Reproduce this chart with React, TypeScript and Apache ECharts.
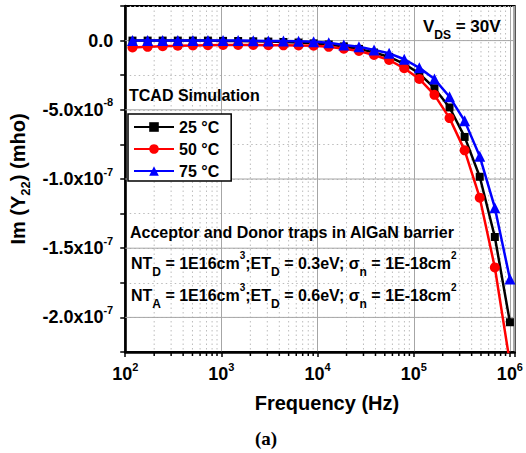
import React, { useEffect, useRef } from 'react';
import * as echarts from 'echarts';

// ---------- data ----------
const frequencies = [
  119, 171, 245, 352, 505, 724, 1040, 1493, 2143, 3076, 4416, 6339, 9099,
  13060, 18750, 26920, 38640, 55460, 79620, 114300, 164100, 235500, 338100,
  485300, 696600, 1000000,
];
const im25 = [
  0, 0, 0, 0, 0, 0, -0.02e-8, -0.03e-8, -0.05e-8, -0.07e-8, -0.1e-8, -0.14e-8,
  -0.2e-8, -0.28e-8, -0.42e-8, -0.6e-8, -0.86e-8, -1.18e-8, -1.68e-8, -2.38e-8,
  -3.44e-8, -4.83e-8, -6.96e-8, -9.84e-8, -14.19e-8, -20.35e-8,
];
const im50 = [
  -0.5e-8, -0.45e-8, -0.4e-8, -0.37e-8, -0.35e-8, -0.33e-8, -0.32e-8, -0.32e-8,
  -0.32e-8, -0.33e-8, -0.34e-8, -0.35e-8, -0.37e-8, -0.45e-8, -0.59e-8,
  -0.75e-8, -1.04e-8, -1.4e-8, -2.0e-8, -2.77e-8, -3.92e-8, -5.6e-8, -7.93e-8,
  -11.35e-8, -16.39e-8, -23.3e-8,
];
const im75 = [
  0, 0, 0, 0, 0, 0, 0, 0, -0.01e-8, -0.02e-8, -0.03e-8, -0.05e-8, -0.09e-8,
  -0.16e-8, -0.32e-8, -0.45e-8, -0.68e-8, -0.92e-8, -1.35e-8, -1.97e-8,
  -2.78e-8, -4.06e-8, -5.8e-8, -8.36e-8, -12.07e-8, -17.23e-8,
];
const seriesNames = ['25 °C', '50 °C', '75 °C'];

// ---------- ticks ----------
const xDecades = [1e2, 1e3, 1e4, 1e5, 1e6];
const xDecadeExponents = ['2', '3', '4', '5', '6'];
const xMinorMultipliers = [2, 3, 4, 5, 6, 7, 8, 9];
const yMajorTicks = [0, -5e-8, -1e-7, -1.5e-7, -2e-7];
const yTickBases = ['0.0', '-5.0x10', '-1.0x10', '-1.5x10', '-2.0x10'];
const yTickExponents = ['', '-8', '-7', '-7', '-7'];

const X_MIN = 100;
const X_MAX = 1.12e6;
const Y_MIN = -2.25e-7;
const Y_MAX = 2.5e-8;
const Y_STEP = 2.5e-8;

const FONT = '"Liberation Sans", Arial, sans-serif';
const MAJOR_GRID = '#a6a6a6';
const MINOR_GRID = '#bcbcbc';

export default function App() {
  const ref = useRef<HTMLDivElement>(null);

  useEffect(() => {
    if (!ref.current) return;
    const chart = echarts.init(ref.current, undefined, { renderer: 'svg' });

    const xMinor: number[][] = [];
    xDecades.forEach((d) => {
      xMinorMultipliers.forEach((m) => {
        const v = d * m;
        if (v < X_MAX) xMinor.push([v, Y_MIN]);
      });
    });

    const labelRich = {
      m: { fontSize: 18, fontWeight: 'bold', fontFamily: FONT, color: '#000' },
      s: {
        fontSize: 11,
        fontWeight: 'bold',
        fontFamily: FONT,
        color: '#000',
        padding: [0, 0, 15, 0],
      },
    };

    const gStyle = (size: number) => ({
      fontSize: size,
      fontWeight: 'bold',
      fontFamily: FONT,
      fill: '#000',
    });
    const noteRich = {
      m: gStyle(16),
      s: { ...gStyle(12), padding: [17, 0, 0, 0] },
      p: { ...gStyle(10), padding: [0, 0, 15, 0] },
      v: gStyle(17),
      vs: { ...gStyle(12), padding: [17, 0, 0, 0] },
      t: gStyle(16),
    };
    const note = (text: string, x: number, y: number) => ({
      type: 'text',
      x,
      y,
      z: 10,
      silent: true,
      style: {
        text,
        rich: noteRich,
        fill: '#000',
        fontFamily: FONT,
        fontWeight: 'bold',
        fontSize: 16,
        align: 'left',
        verticalAlign: 'middle',
        textAlign: 'left',
        textVerticalAlign: 'middle',
      },
    });

    const lineSeries = (
      name: string,
      values: number[],
      color: string,
      symbol: string,
      size: number,
      z: number
    ) => ({
      name,
      type: 'line',
      data: frequencies.map((f, i) => [f, values[i]]),
      symbol,
      symbolSize: size,
      showAllSymbol: true,
      clip: true,
      z,
      lineStyle: { color, width: 2.5 },
      itemStyle: { color, borderWidth: 0 },
      emphasis: { disabled: true },
    });

    chart.setOption({
      animation: false,
      backgroundColor: '#fff',
      grid: {
        left: 125,
        right: 10,
        top: 6,
        bottom: 101,
        show: true,
        borderColor: '#000',
        borderWidth: 2,
        backgroundColor: 'transparent',
      },
      legend: {
        data: seriesNames,
        orient: 'vertical',
        left: 128,
        top: 114,
        itemWidth: 40,
        itemHeight: 12,
        itemGap: 6,
        padding: [5, 12, 2, 5],
        borderColor: '#000',
        borderWidth: 1.5,
        backgroundColor: '#fff',
        selectedMode: false,
        z: 6,
        textStyle: {
          fontSize: 16,
          fontWeight: 'bold',
          fontFamily: FONT,
          color: '#000',
        },
      },
      xAxis: {
        type: 'log',
        logBase: 10,
        min: X_MIN,
        max: X_MAX,
        axisLine: { show: true, onZero: false, lineStyle: { color: '#000', width: 2.5 } },
        axisTick: { show: true, length: 5, lineStyle: { color: '#000', width: 1.5 } },
        axisLabel: {
          margin: 9,
          color: '#000',
          fontSize: 18,
          fontWeight: 'bold',
          fontFamily: FONT,
          rich: labelRich,
          formatter: (v: number) => {
            const i = xDecades.findIndex((d) => Math.abs(d - v) / d < 1e-6);
            if (i < 0) return '';
            return `{m|10}{s|${xDecadeExponents[i]}}`;
          },
        },
        splitLine: { show: true, lineStyle: { color: MAJOR_GRID, width: 1, type: 'solid' } },
        name: 'Frequency (Hz)',
        nameLocation: 'middle',
        nameGap: 41,
        nameTextStyle: {
          fontSize: 20,
          fontWeight: 'bold',
          fontFamily: FONT,
          color: '#000',
          padding: [0, 0, 0, 14],
        },
      },
      yAxis: {
        type: 'value',
        min: Y_MIN,
        max: Y_MAX,
        interval: Y_STEP,
        axisLine: { show: true, onZero: false, lineStyle: { color: '#000', width: 2.5 } },
        axisTick: { show: true, length: 5, lineStyle: { color: '#000', width: 1.5 } },
        axisLabel: {
          margin: 12,
          color: '#000',
          fontSize: 18,
          fontWeight: 'bold',
          fontFamily: FONT,
          rich: labelRich,
          formatter: (v: number) => {
            const i = yMajorTicks.findIndex((t) => Math.abs(t - v) < 1e-10);
            if (i < 0) return '';
            const e = yTickExponents[i];
            return e ? `{m|${yTickBases[i]}}{s|${e}}` : `{m|${yTickBases[i]}}`;
          },
        },
        splitLine: { show: true, lineStyle: { color: MINOR_GRID, width: 1, type: [1.5, 3] } },
        name: '{a|Im (Y}{b|22}{a|) (mho)}',
        nameLocation: 'middle',
        nameRotate: 90,
        nameGap: 84,
        nameTextStyle: {
          color: '#000',
          rich: {
            a: { fontSize: 20, fontWeight: 'bold', fontFamily: FONT, color: '#000' },
            b: {
              fontSize: 13,
              fontWeight: 'bold',
              fontFamily: FONT,
              color: '#000',
              padding: [14, 0, 0, 0],
            },
          },
        },
      },
      series: [
        {
          type: 'custom',
          silent: true,
          z: 1,
          clip: false,
          data: xMinor,
          encode: { x: 0, y: 1 },
          renderItem: (_p: any, api: any) => {
            const v = api.value(0);
            const b = api.coord([v, Y_MIN]);
            const t = api.coord([v, Y_MAX]);
            return {
              type: 'group',
              children: [
                {
                  type: 'line',
                  shape: { x1: b[0], y1: t[1], x2: b[0], y2: b[1] },
                  style: { stroke: MINOR_GRID, lineWidth: 1, lineDash: [1.5, 3] },
                },
                {
                  type: 'line',
                  shape: { x1: b[0], y1: b[1], x2: b[0], y2: b[1] + 4 },
                  style: { stroke: '#000', lineWidth: 1.5 },
                },
              ],
            };
          },
        },
        {
          type: 'custom',
          silent: true,
          z: 1,
          clip: false,
          data: yMajorTicks.map((v) => [X_MIN, v]),
          encode: { x: 0, y: 1 },
          renderItem: (_p: any, api: any) => {
            const v = api.value(1);
            const l = api.coord([X_MIN, v]);
            const r = api.coord([X_MAX, v]);
            return {
              type: 'line',
              shape: { x1: l[0], y1: l[1], x2: r[0], y2: l[1] },
              style: { stroke: MAJOR_GRID, lineWidth: 1 },
            };
          },
        },
        lineSeries(seriesNames[0], im25, '#000000', 'rect', 8, 3),
        lineSeries(seriesNames[1], im50, '#ff0000', 'circle', 10, 4),
        lineSeries(seriesNames[2], im75, '#0000ff', 'triangle', 11, 5),
      ],
      graphic: [
        note('{v|V}{vs|DS}{v| = 30V}', 423, 26),
        note('{t|TCAD Simulation}', 129, 95),
        note('{m|Acceptor and Donor traps in AlGaN barrier}', 130, 232),
        note(
          '{m|NT}{s|D}{m| = 1E16cm}{p|3}{m|;ET}{s|D}{m| = 0.3eV; σ}{s|n}{m| = 1E-18cm}{p|2}',
          131,
          263
        ),
        note(
          '{m|NT}{s|A}{m| = 1E16cm}{p|3}{m|;ET}{s|D}{m| = 0.6eV; σ}{s|n}{m| = 1E-18cm}{p|2}',
          131,
          295
        ),
        {
          type: 'text',
          x: 266,
          y: 438,
          silent: true,
          style: {
            text: '(a)',
            fill: '#000',
            fontFamily: '"Liberation Serif", "Times New Roman", serif',
            fontWeight: 'bold',
            fontSize: 19,
            align: 'center',
            verticalAlign: 'middle',
            textAlign: 'center',
            textVerticalAlign: 'middle',
          },
        },
      ],
    });

    return () => chart.dispose();
  }, []);

  return (
    <div
      ref={ref}
      style={{ position: 'fixed', left: 0, top: 0, width: 526, height: 453, background: '#fff' }}
    />
  );
}
